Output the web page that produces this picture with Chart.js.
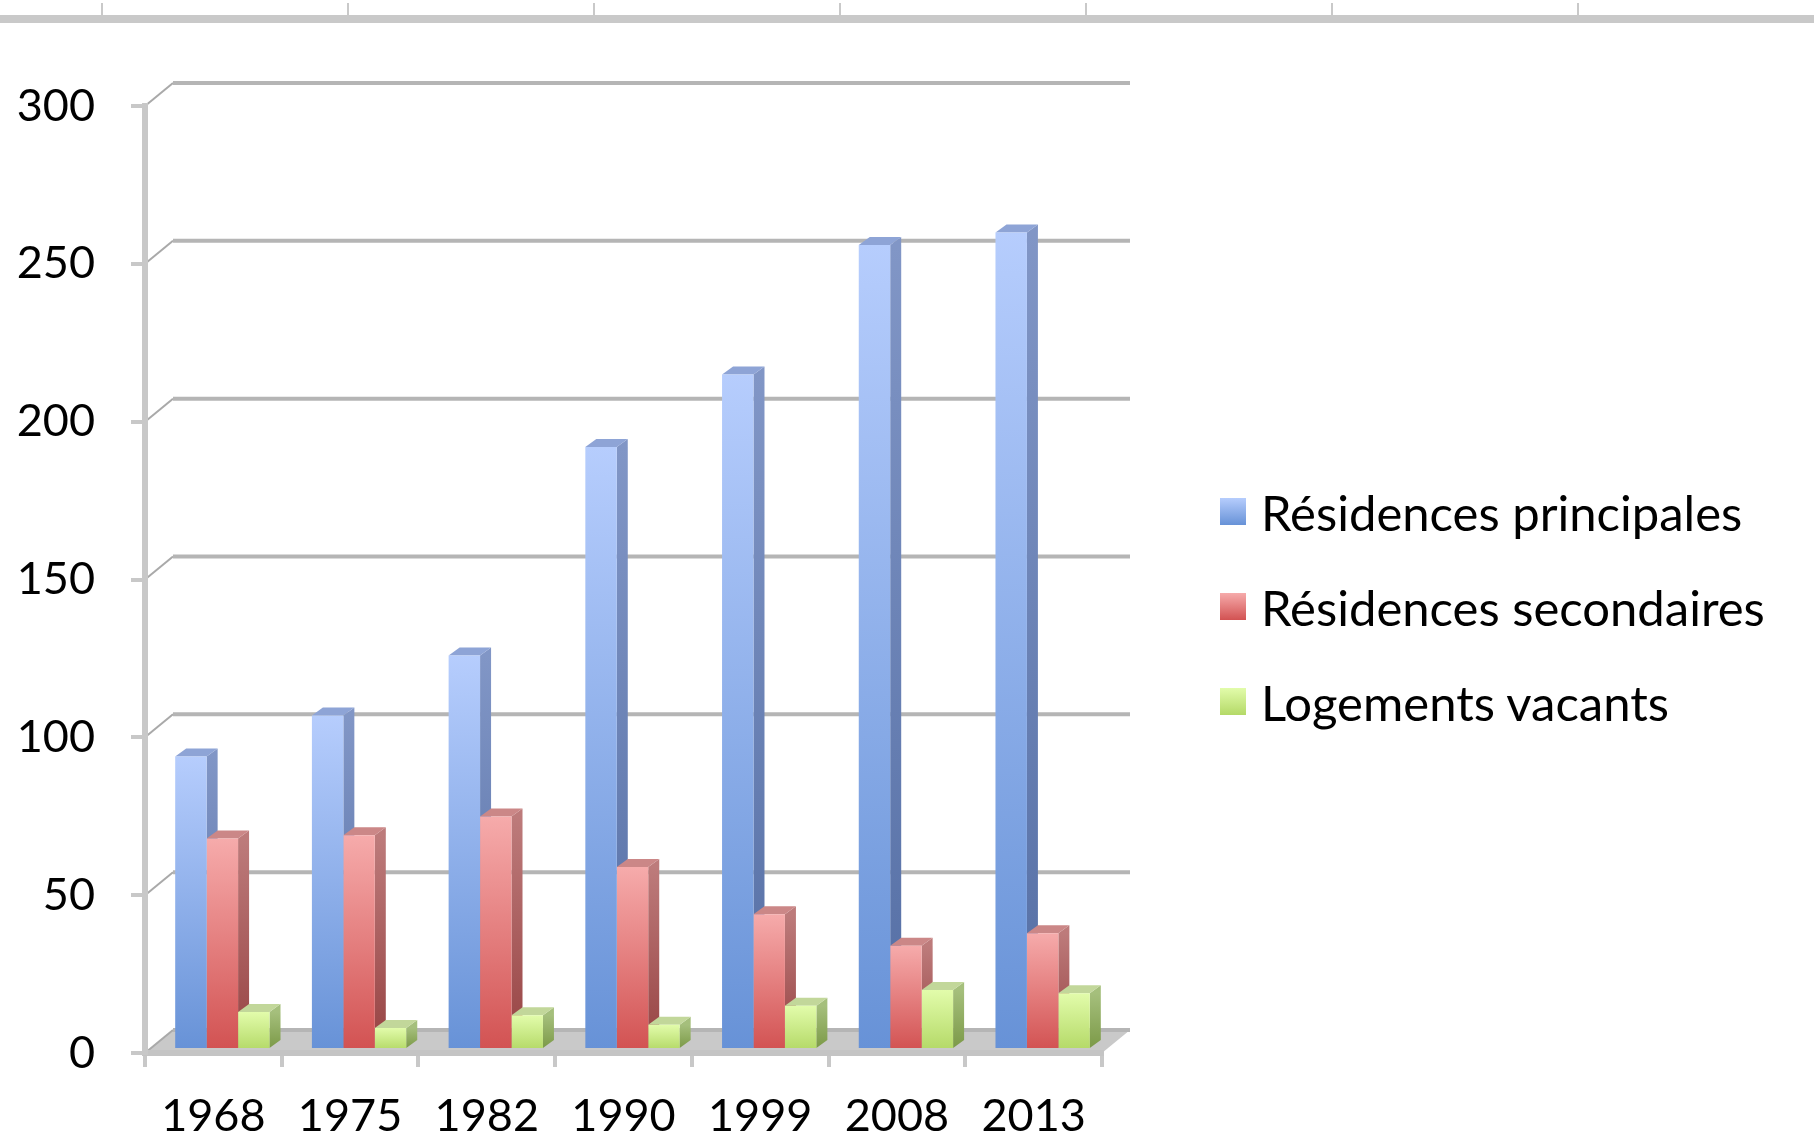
<!DOCTYPE html>
<html>
<head>
<meta charset="utf-8">
<script src="https://cdn.jsdelivr.net/npm/chart.js@4.4.1/dist/chart.umd.min.js"></script>
<style>
  body { margin: 0; background: #fff; overflow: hidden; }
  #wrap { position: relative; width: 1814px; height: 1144px; }
  #ruler { position: absolute; left: 0; top: 15px; width: 1814px; height: 8px; background: #c9c9c9; }
  #rulerTicks { position: absolute; left: 0; top: 3px; width: 1814px; height: 15px;
    background: repeating-linear-gradient(to right, transparent 0, transparent 100px, #c9c9c9 100px, #c9c9c9 102px, transparent 102px, transparent 246px);
    background-position: 1px 0; }
  #legend { position: absolute; left: 1220px; top: 470px; font-family: Lato, "Open Sans", sans-serif; font-size: 49px; color: #000; }
  .item { position: relative; height: 95px; line-height: 84px; white-space: nowrap; }
  .box { position: absolute; left: 0; top: 28px; width: 26px; height: 27px; }
  .lbl { position: absolute; left: 41px; top: 0; }
  canvas { position: absolute; left: 0; top: 0; }
</style>
</head>
<body>
<div id="wrap">
  <div id="rulerTicks"></div>
  <div id="ruler"></div>
  <canvas id="chart" width="1814" height="1144"></canvas>
  <div id="legend"></div>
</div>
<script>
// ================= DATA =================
const years = ["1968", "1975", "1982", "1990", "1999", "2008", "2013"];
const principales = [93, 106, 125, 191, 214, 255, 259];
const secondaires = [67, 68, 74, 58, 43, 33, 37];
const vacants = [12, 7, 11, 8, 14, 19, 18];
const seriesNames = ["Résidences principales", "Résidences secondaires", "Logements vacants"];
const yTicks = [0, 50, 100, 150, 200, 250, 300];

// colours: front top / front bottom / side top / side bottom / top face
const palette = [
    { top: "#b6cdfd", bottom: "#6792d7", sideTop: "#8196c6", sideBottom: "#546ea4", cap: "#8ea4d6" },
    { top: "#f6abab", bottom: "#d25252", sideTop: "#bd7b7b", sideBottom: "#974343", cap: "#cb8787" },
    { top: "#e2fcab", bottom: "#b4d967", sideTop: "#a5bf7c", sideBottom: "#7c9a48", cap: "#c2d79a" }
];

const DEPTH_X = 28, DEPTH_Y = 23;   // back wall offset
const BAR_DX = 11, BAR_DY = 8;      // bar side depth
const MID_X = 9, MID_Y = 3;         // bars stand a bit behind the front edge

function frontGradient(ctx, idx) {
    const chart = ctx.chart;
    if (!chart.chartArea || ctx.type !== "data") return palette[idx].bottom;
    const y = chart.scales.y;
    const top = y.getPixelForValue(ctx.raw);
    const base = y.getPixelForValue(0);
    const g = chart.ctx.createLinearGradient(0, top, 0, base);
    g.addColorStop(0, palette[idx].top);
    g.addColorStop(1, palette[idx].bottom);
    return g;
}

// ================= 3D DECOR =================
const wallPlugin = {
    id: "wall",
    beforeDraw(chart) {
        const { ctx, chartArea } = chart;
        const y = chart.scales.y;
        const L = chartArea.left, R = chartArea.right, B = chartArea.bottom;
        ctx.save();
        // floor
        ctx.fillStyle = "#c9c9c9";
        ctx.beginPath();
        ctx.moveTo(L, B);
        ctx.lineTo(R, B);
        ctx.lineTo(R + DEPTH_X, B - DEPTH_Y);
        ctx.lineTo(L + DEPTH_X, B - DEPTH_Y);
        ctx.closePath();
        ctx.fill();
        // back wall grid lines + side diagonals
        yTicks.forEach(v => {
            const py = y.getPixelForValue(v);
            ctx.strokeStyle = "#a9a9a9";
            ctx.lineWidth = 2;
            ctx.beginPath();
            ctx.moveTo(L, py);
            ctx.lineTo(L + DEPTH_X, py - DEPTH_Y);
            ctx.stroke();
            ctx.strokeStyle = "#b5b5b5";
            ctx.lineWidth = 4;
            ctx.beginPath();
            ctx.moveTo(L + DEPTH_X, py - DEPTH_Y);
            ctx.lineTo(R + DEPTH_X, py - DEPTH_Y);
            ctx.stroke();
        });
        ctx.restore();
    },
    beforeDatasetsDraw(chart) {
        const ctx = chart.ctx;
        ctx.save();
        ctx.translate(MID_X, -MID_Y);   // restored in afterDatasetsDraw
        chart.data.datasets.forEach((ds, di) => {
            const meta = chart.getDatasetMeta(di);
            const p = palette[di];
            meta.data.forEach(el => {
                const { x, y, base, width } = el.getProps(["x", "y", "base", "width"], true);
                const l = x - width / 2, r = x + width / 2;
                // side face
                const g = ctx.createLinearGradient(0, y, 0, base);
                g.addColorStop(0, p.sideTop);
                g.addColorStop(1, p.sideBottom);
                ctx.fillStyle = g;
                ctx.beginPath();
                ctx.moveTo(r, y);
                ctx.lineTo(r + BAR_DX, y - BAR_DY);
                ctx.lineTo(r + BAR_DX, base - BAR_DY);
                ctx.lineTo(r, base);
                ctx.closePath();
                ctx.fill();
                // top face
                ctx.fillStyle = p.cap;
                ctx.beginPath();
                ctx.moveTo(l, y);
                ctx.lineTo(l + BAR_DX, y - BAR_DY);
                ctx.lineTo(r + BAR_DX, y - BAR_DY);
                ctx.lineTo(r, y);
                ctx.closePath();
                ctx.fill();
            });
        });
    },
    afterDatasetsDraw(chart) {
        chart.ctx.restore();
    }
};

// ================= CHART =================
const font = { family: "Lato, 'Open Sans', sans-serif", size: 45 };

new Chart(document.getElementById("chart"), {
    type: "bar",
    data: {
        labels: years,
        datasets: [
            { label: seriesNames[0], data: principales, backgroundColor: c => frontGradient(c, 0) },
            { label: seriesNames[1], data: secondaires, backgroundColor: c => frontGradient(c, 1) },
            { label: seriesNames[2], data: vacants, backgroundColor: c => frontGradient(c, 2) }
        ]
    },
    options: {
        responsive: false,
        animation: false,
        devicePixelRatio: 1,
        layout: { padding: { top: 106, right: 712, left: 0, bottom: 0 } },
        datasets: { bar: { categoryPercentage: 0.69, barPercentage: 1.0, borderWidth: 0 } },
        plugins: {
            legend: { display: false },
            tooltip: { enabled: false }
        },
        scales: {
            x: {
                grid: { offset: true, drawOnChartArea: false, tickLength: 14, color: "#c8c8c8", lineWidth: 4 },
                border: { color: "#c4c4c4", width: 6 },
                ticks: { font: font, color: "#000", padding: 22, maxRotation: 0 },
                afterFit: s => { s.height = 91; }
            },
            y: {
                min: 0,
                max: 300,
                ticks: { stepSize: 50, font: font, color: "#000", padding: 36 },
                grid: { drawOnChartArea: false, tickLength: 14, color: "#c8c8c8", lineWidth: 4 },
                border: { color: "#c8c8c8", width: 6 },
                afterFit: s => { s.width = 145; }
            }
        }
    },
    plugins: [wallPlugin]
});

// ================= LEGEND =================
const legend = document.getElementById("legend");
seriesNames.forEach((name, i) => {
    legend.innerHTML +=
        `<div class="item"><span class="box" style="background:linear-gradient(${palette[i].top},${palette[i].bottom})"></span><span class="lbl">${name}</span></div>`;
});
</script>
</body>
</html>
